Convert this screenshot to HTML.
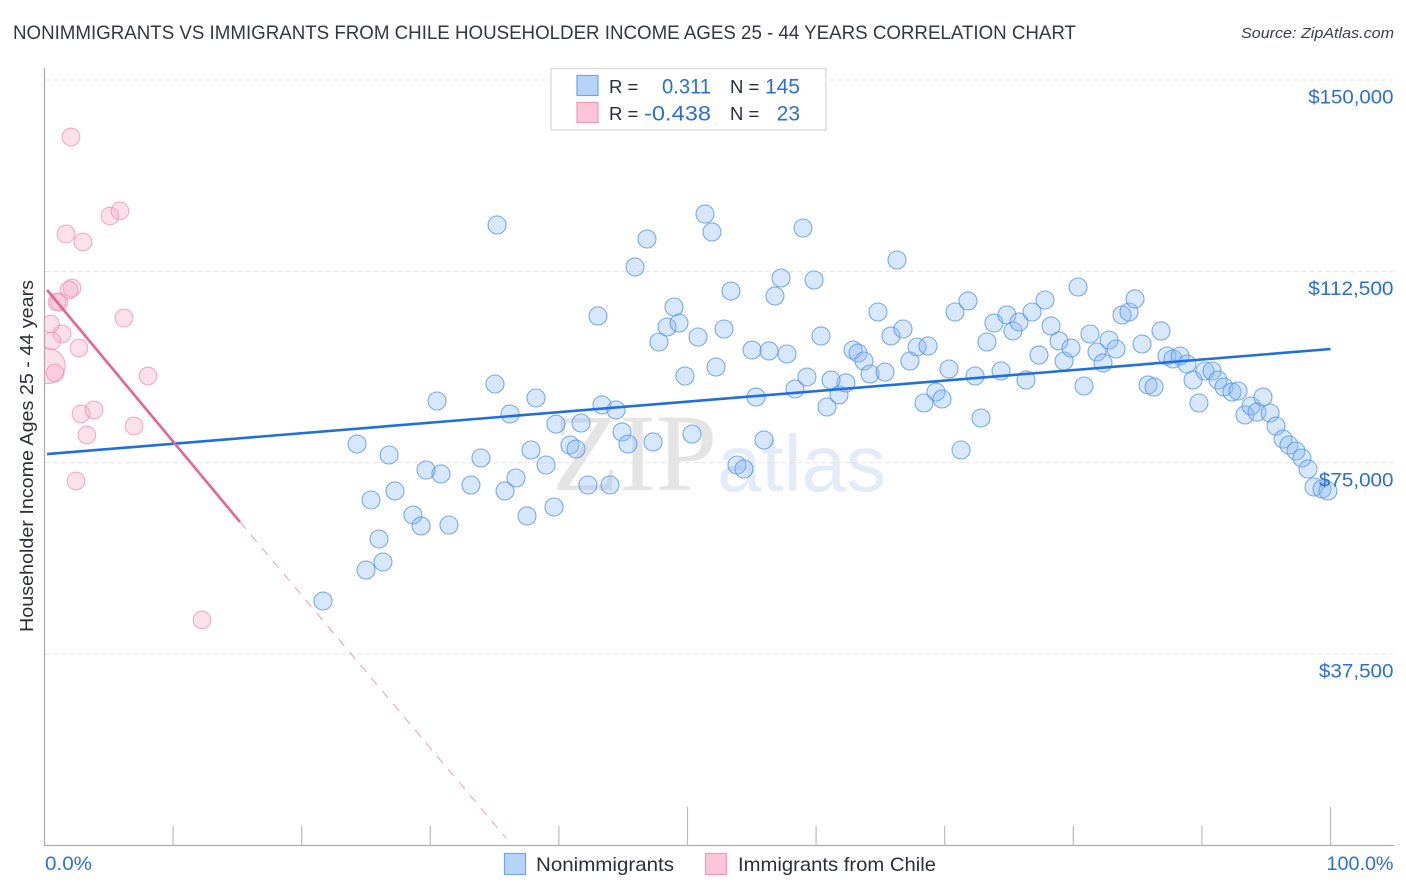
<!DOCTYPE html>
<html lang="en">
<head>
<meta charset="utf-8">
<title>Nonimmigrants vs Immigrants from Chile Householder Income Correlation Chart</title>
<style>
html,body{margin:0;padding:0;background:#fff;}
body{width:1406px;height:892px;overflow:hidden;}
svg{display:block;font-family:"Liberation Sans",sans-serif;}
</style>
</head>
<body>
<svg id="chart" xmlns="http://www.w3.org/2000/svg" width="1406" height="892" viewBox="0 0 1406 892">
  <defs>
    <clipPath id="plot-clip"><rect x="45" y="60" width="1350" height="785"></rect></clipPath>
  </defs>
  <rect x="0" y="0" width="1406" height="892" fill="#ffffff"></rect>
  <text x="13" y="39" font-size="19" fill="#33373e" textLength="1063" lengthAdjust="spacingAndGlyphs">NONIMMIGRANTS VS IMMIGRANTS FROM CHILE HOUSEHOLDER INCOME AGES 25 - 44 YEARS CORRELATION CHART</text>
  <text x="1394" y="38" font-size="15" font-style="italic" fill="#3a3f47" text-anchor="end" textLength="153" lengthAdjust="spacingAndGlyphs">Source: ZipAtlas.com</text>
  <text transform="translate(33,456) rotate(-90)" font-size="18.5" fill="#2b2f36" text-anchor="middle" textLength="352" lengthAdjust="spacingAndGlyphs">Householder Income Ages 25 - 44 years</text>
  <g>
    <text x="552" y="490" style="font-family:'Liberation Serif',serif" font-size="110" fill="#e4e4e4">ZIP</text>
    <text x="717" y="491" style="font-family:'Liberation Sans',Arial,sans-serif" font-size="80" fill="#e3ebf9">atlas</text>
  </g>
  <g id="grid"></g>
  <g id="axes"></g>
  <g id="pts-blue" clip-path="url(#plot-clip)"></g>
  <g id="pts-pink" clip-path="url(#plot-clip)"></g>
  <g id="trends"></g>
  <g id="labels"></g>
  <g>
    <rect x="551" y="68.5" width="275" height="61.5" fill="#ffffff" stroke="#dddddd" stroke-width="1.5"></rect>
    <rect x="577" y="75.5" width="21" height="20" fill="#b8d3f8" stroke="#72a5e8" stroke-width="1.2"></rect>
    <rect x="577" y="102.5" width="21" height="20" fill="#fcc5d8" stroke="#f09ab8" stroke-width="1.2"></rect>
    <text x="609" y="93" font-size="18.5" fill="#2b2f36">R =</text>
    <text x="711" y="93.5" font-size="21" fill="#2a6fd6" text-anchor="end" textLength="49" lengthAdjust="spacingAndGlyphs">0.311</text>
    <text x="730" y="93" font-size="18.5" fill="#2b2f36">N =</text>
    <text x="800" y="93.5" font-size="21" fill="#2a6fd6" text-anchor="end">145</text>
    <text x="609" y="120" font-size="18.5" fill="#2b2f36">R =</text>
    <text x="711" y="120.5" font-size="21" fill="#2a6fd6" text-anchor="end" textLength="67" lengthAdjust="spacingAndGlyphs">-0.438</text>
    <text x="730" y="120" font-size="18.5" fill="#2b2f36">N =</text>
    <text x="800" y="120.5" font-size="21" fill="#2a6fd6" text-anchor="end">23</text>
  </g>
  <g>
    <rect x="504.5" y="853.5" width="21" height="21" fill="#b8d3f8" stroke="#72a5e8" stroke-width="1.2"></rect>
    <text x="536" y="871" font-size="19.5" fill="#2b2f36" textLength="138" lengthAdjust="spacingAndGlyphs">Nonimmigrants</text>
    <rect x="705.5" y="853.5" width="21" height="21" fill="#fcc5d8" stroke="#f09ab8" stroke-width="1.2"></rect>
    <text x="738" y="871" font-size="19.5" fill="#2b2f36" textLength="198" lengthAdjust="spacingAndGlyphs">Immigrants from Chile</text>
  </g>
</svg>
<script>
const incomeTicks = [150000, 112500, 75000, 37500];
const incomeTickLabels = ["$150,000", "$112,500", "$75,000", "$37,500"];
const shareTicks = [10, 20, 30, 40, 50, 60, 70, 80, 90, 100];
const shareMajorTicks = [50, 100];
const shareEndLabels = ["0.0%", "100.0%"];

const nonimmigrantShare = [21.66,25.0,26.32,26.01,25.39,27.25,28.65,29.28,31.45,29.67,30.83,33.16,35.81,36.66,33.94,26.79,24.3,30.52,35.03,36.2,38.22,37.83,39.0,37.52,39.62,42.26,43.97,35.19,43.04,39.77,41.72,40.86,41.33,43.35,44.44,44.91,45.37,47.32,50.35,53.85,54.39,55.95,55.33,58.36,60.85,61.78,62.32,61.16,59.29,49.8,52.22,50.82,47.78,48.41,49.34,48.95,52.84,55.02,56.34,57.74,53.38,56.8,57.27,59.84,45.92,46.85,51.36,51.9,58.98,66.29,64.81,60.38,62.87,63.26,63.72,64.19,65.36,65.82,66.76,67.3,67.85,68.7,70.33,69.32,68.39,69.79,72.82,71.27,72.36,74.38,76.32,73.29,73.83,74.84,75.31,75.78,76.79,70.8,71.81,77.8,78.27,77.33,78.89,79.28,79.82,80.83,80.37,81.3,81.84,82.31,82.78,83.32,83.79,84.33,84.8,85.34,85.81,86.28,86.82,87.29,87.75,88.3,88.84,89.31,89.77,90.24,90.79,91.25,91.72,92.34,92.81,93.35,93.82,94.29,94.75,95.3,95.76,96.31,96.77,97.32,97.78,98.25,98.72,99.34,99.8];
const nonimmigrantIncome = [47900,53980,55550,60060,67700,69470,64760,62610,62800,73580,72800,70640,69470,72010,75930,76520,78670,87100,90430,84550,87690,77500,74560,64570,66330,70640,70640,121590,103760,82590,82790,78480,77690,86320,85340,81030,78670,79070,80630,74560,73780,79460,87880,89450,85930,88280,90630,91210,91800,92000,93760,99640,98660,101600,102380,105520,101210,97090,96900,96310,108650,107670,111200,110810,113360,118840,123740,120220,121000,114730,104540,99840,97090,96500,94940,92390,92780,99840,101210,94940,97680,97880,93370,88860,86710,87490,83770,77500,92000,92980,91210,98660,102380,103950,100820,102580,104540,104540,106700,106890,101800,96110,98860,94940,97480,90040,109440,100230,96700,94550,99050,97290,103950,104540,107090,98270,90240,89840,100820,95920,95330,95920,94350,91210,86710,92980,92980,91210,89840,88860,89060,84360,86120,84940,87880,84750,82200,79650,78480,77300,75930,73780,70250,69860,69470];

const immigrantShare = [2.06,5.09,5.87,1.67,2.99,2.14,1.91,1.13,0.97,6.18,0.47,1.36,0.58,2.68,0.24,0.82,2.84,3.85,3.3,6.96,8.05,2.45,12.25];
const immigrantIncome = [138830,123350,124330,119820,118260,109240,108850,106500,106500,103360,102180,100230,98860,97480,93960,92590,84550,85340,80440,82200,92000,71420,44190];
const immigrantWeight = [1,1,1,1,1,1,1,1,1,1,1,1,1,1,4,1,1,1,1,1,1,1,1];

const nonimmigrantTrendShare = [0.2, 100];
const nonimmigrantTrendIncome = [76700, 97290];
const immigrantTrendShare = [0.2, 15.2];
const immigrantTrendIncome = [108850, 63400];
const immigrantProjectionShare = [15.2, 35.89];
const immigrantProjectionIncome = [63400, 1470];

const SVG_NS = "http://www.w3.org/2000/svg";
const xAxis = v => 44.5 + v * 12.86;
const yAxis = v => 845.5 - v * 765.5 / 150000;
const radiusFor = w => 8.8 * Math.sqrt(w);

function make(tag, attrs, parent) {
  const el = document.createElementNS(SVG_NS, tag);
  for (const k in attrs) el.setAttribute(k, attrs[k]);
  parent.appendChild(el);
  return el;
}

const grid = document.getElementById("grid");
const axes = document.getElementById("axes");
const labels = document.getElementById("labels");
const ptsBlue = document.getElementById("pts-blue");
const ptsPink = document.getElementById("pts-pink");
const trends = document.getElementById("trends");

incomeTicks.forEach((t, i) => {
  const y = yAxis(t);
  const g = make("line", {x1: 45, x2: 1393, y1: y, y2: y, stroke: "#e3e3e3", "stroke-width": 1, "stroke-dasharray": "5 3"}, grid);
  
  
  const lab = make("text", {x: 1393.5, y: y + 23.5, "font-size": 19.5, fill: "#2a6fd6", "text-anchor": "end", textLength: incomeTickLabels[i].length * 10.65, lengthAdjust: "spacingAndGlyphs"}, labels);
  
  
  lab.textContent = incomeTickLabels[i];
});

const yLine = make("line", {x1: 44.5, x2: 44.5, y1: 68, y2: 846, stroke: "#adadad", "stroke-width": 1.3}, axes);


const xLine = make("line", {x1: 44, x2: 1394, y1: 845.5, y2: 845.5, stroke: "#adadad", "stroke-width": 1.3}, axes);



shareTicks.forEach(t => {
  const x = xAxis(t);
  const top = shareMajorTicks.includes(t) ? 807 : 826;
  const tick = make("line", {x1: x, x2: x, y1: top, y2: 845.5, stroke: "#bbbbbb", "stroke-width": 1.2}, axes);
  
  
});

const xLabelLeft = make("text", {x: 45, y: 870, "font-size": 19.5, fill: "#2a6fd6", textLength: 47, lengthAdjust: "spacingAndGlyphs"}, labels);


xLabelLeft.textContent = shareEndLabels[0];
const xLabelRight = make("text", {x: 1393.5, y: 870, "font-size": 19.5, fill: "#2a6fd6", "text-anchor": "end", textLength: 67, lengthAdjust: "spacingAndGlyphs"}, labels);


xLabelRight.textContent = shareEndLabels[1];

nonimmigrantShare.forEach((s, i) => {
  const c = make("circle", {cx: xAxis(s), cy: yAxis(nonimmigrantIncome[i]), r: 9, fill: "#8ab8f5", "fill-opacity": 0.34, stroke: "#5b97e6", "stroke-opacity": 0.8, "stroke-width": 1.1}, ptsBlue);
  
  
});

immigrantShare.forEach((s, i) => {
  const c = make("circle", {cx: xAxis(s), cy: yAxis(immigrantIncome[i]), r: radiusFor(immigrantWeight[i]), fill: "#f7a8c4", "fill-opacity": 0.34, stroke: "#ee93b4", "stroke-opacity": 0.75, "stroke-width": 1.1}, ptsPink);
  
  
});

const blueTrend = make("line", {x1: xAxis(nonimmigrantTrendShare[0]), y1: yAxis(nonimmigrantTrendIncome[0]), x2: xAxis(nonimmigrantTrendShare[1]), y2: yAxis(nonimmigrantTrendIncome[1]), stroke: "#1f6fdc", "stroke-width": 2.6}, trends);


const pinkTrend = make("line", {x1: xAxis(immigrantTrendShare[0]), y1: yAxis(immigrantTrendIncome[0]), x2: xAxis(immigrantTrendShare[1]), y2: yAxis(immigrantTrendIncome[1]), stroke: "#e8648f", "stroke-width": 2.6}, trends);


const pinkProjection = make("line", {x1: xAxis(immigrantProjectionShare[0]), y1: yAxis(immigrantProjectionIncome[0]), x2: xAxis(immigrantProjectionShare[1]), y2: yAxis(immigrantProjectionIncome[1]), stroke: "#f09ab8", "stroke-width": 1, "stroke-dasharray": "9 8"}, trends);


</script>
</body>
</html>
